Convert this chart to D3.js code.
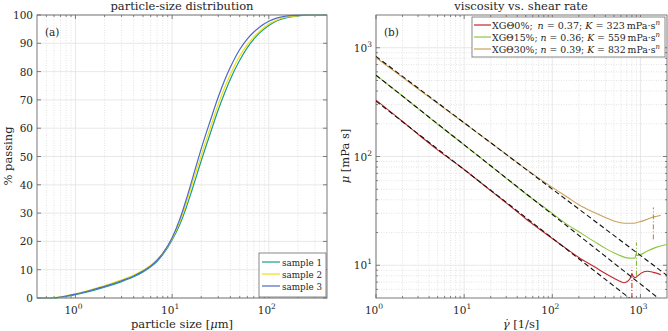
<!DOCTYPE html>
<html>
<head>
<meta charset="utf-8">
<script src="https://cdn.jsdelivr.net/npm/d3@7"></script>
<style>
	body { margin: 0; background: #fff; }
	svg text { font-family: "DejaVu Serif", serif; fill: #262626; }
</style>
</head>
<body>
<script>
// ---- particle-size distribution (panel a)
var sizes   = [0.4, 0.5, 0.6, 0.7, 0.8, 1, 1.5, 2, 3, 4, 5, 6, 7, 8, 10, 12, 14, 16, 18, 20, 25, 30, 35, 40, 50, 60, 70, 80, 100, 120, 150, 200, 250, 300, 400];
var sample1 = [0, 0, 0.05, 0.3, 0.6, 1.2, 2.6, 3.8, 5.8, 7.5, 9.2, 11, 13, 15.3, 20.5, 26, 32, 38, 43.5, 48.5, 58.5, 66.5, 72.5, 77.3, 84, 88.5, 91.5, 93.6, 96.3, 97.9, 99.0, 99.7, 99.95, 100, 100];
var sample2 = [0, 0, 0.1, 0.4, 0.8, 1.5, 3.1, 4.4, 6.4, 8.1, 9.8, 11.6, 13.6, 15.8, 21, 27, 33.5, 40, 45.5, 50.5, 60.5, 68.5, 74.5, 79, 85.5, 89.5, 92.3, 94.2, 96.8, 98.2, 99.2, 99.8, 100, 100, 100];
var sample3 = [0, 0, 0.08, 0.35, 0.7, 1.35, 2.9, 4.1, 6.1, 7.8, 9.5, 11.3, 13.4, 15.8, 21.3, 27.8, 34.8, 41.5, 47.5, 52.8, 63, 71, 77, 81.5, 87.8, 91.6, 94, 95.7, 97.8, 98.9, 99.6, 99.9, 100, 100, 100];
var sampleNames = ["sample 1", "sample 2", "sample 3"];
var sampleColors = ["#1b9e8a", "#f0e010", "#5068c8"];
var yTicksA = [0, 10, 20, 30, 40, 50, 60, 70, 80, 90, 100];

// ---- viscosity vs shear rate (panel b)
var rate0  = [1, 2, 3, 5, 10, 20, 30, 50, 70, 100, 150, 200, 300, 400, 500, 600, 650, 700, 760, 800, 830, 870, 950, 1050, 1200, 1400, 1700];
var visc0  = [330, 210, 160, 115, 76, 48.5, 37.5, 26.8, 21.8, 17.6, 13.9, 11.8, 9.7, 8.4, 7.6, 7.05, 6.9, 7.05, 7.5, 8.3, 7.9, 7.7, 8.1, 8.6, 8.8, 8.6, 8.2];
var rate15 = [1, 2, 5, 10, 20, 50, 100, 150, 200, 300, 400, 500, 600, 700, 800, 870, 890, 920, 1000, 1200, 1500, 2000];
var visc15 = [560, 360, 198, 128, 82, 45.5, 30, 23.5, 20.3, 16.5, 14.3, 13, 12.2, 11.7, 11.6, 11.7, 12.7, 12.3, 12.5, 13.5, 14.6, 15.5];
var rate30 = [1, 2, 5, 10, 20, 50, 100, 150, 200, 300, 400, 500, 600, 700, 800, 900, 1000, 1200, 1400, 1500, 1700];
var visc30 = [810, 535, 308, 203, 134, 77, 52, 42, 36, 30.5, 27.5, 25.5, 24.6, 24.3, 24.3, 24.6, 25.2, 26.5, 27.8, 28.1, 28.8];
var fluidNames = ["XG\u03980%;\u2002", "XG\u039815%; ", "XG\u039830%; "];
var fitN = [0.37, 0.36, 0.39];
var fitK = [323, 559, 832];
var fluidColors = ["#c1272d", "#8dc63f", "#c9a25a"];
var onsetColors = ["#c1272d", "#7cb82f", "#a8872f"];
var onsetRate = [800, 900, 1400];
var onsetLow  = [5, 8, 17.3];
var onsetHigh = [9.5, 16.2, 34];

var width = 668, height = 331;
var svg = d3.select("body").append("svg")
	.attr("width", width)
	.attr("height", height)
	.attr("font-family", "DejaVu Serif, serif");

function logMinor(domain) {
	var out = [];
	for (var e = -2; e <= 4; e++)
		for (var k = 2; k <= 9; k++) {
			var v = k * Math.pow(10, e);
			if (v > domain[0] && v < domain[1]) out.push(v);
		}
	return out;
}

// grid, inward ticks on all four sides and the box
function frame(g, x, y, xMajor, xMinor, yMajor, yMinor) {
	var x0 = x.range()[0], x1 = x.range()[1], y0 = y.range()[1], y1 = y.range()[0];
	g.selectAll(".gxm").data(xMinor).enter().append("line")
		.attr("x1", x).attr("x2", x).attr("y1", y0).attr("y2", y1)
		.attr("stroke", "#d8d8d8").attr("stroke-width", 0.7).attr("stroke-dasharray", "1,1.5");
	g.selectAll(".gym").data(yMinor).enter().append("line")
		.attr("y1", y).attr("y2", y).attr("x1", x0).attr("x2", x1)
		.attr("stroke", "#d8d8d8").attr("stroke-width", 0.7).attr("stroke-dasharray", "1,1.5");
	g.selectAll(".gx").data(xMajor).enter().append("line")
		.attr("x1", x).attr("x2", x).attr("y1", y0).attr("y2", y1)
		.attr("stroke", "#e2e2e2").attr("stroke-width", 0.8);
	g.selectAll(".gy").data(yMajor).enter().append("line")
		.attr("y1", y).attr("y2", y).attr("x1", x0).attr("x2", x1)
		.attr("stroke", "#e2e2e2").attr("stroke-width", 0.8);

	var tk = g.append("g").attr("stroke", "#4d4d4d").attr("stroke-width", 0.7);
	[[xMajor, 4], [xMinor, 2]].forEach(function(p) {
		p[0].forEach(function(v) {
			tk.append("line").attr("x1", x(v)).attr("x2", x(v)).attr("y1", y1).attr("y2", y1 - p[1]);
			tk.append("line").attr("x1", x(v)).attr("x2", x(v)).attr("y1", y0).attr("y2", y0 + p[1]);
		});
	});
	[[yMajor, 4], [yMinor, 2]].forEach(function(p) {
		p[0].forEach(function(v) {
			tk.append("line").attr("y1", y(v)).attr("y2", y(v)).attr("x1", x0).attr("x2", x0 + p[1]);
			tk.append("line").attr("y1", y(v)).attr("y2", y(v)).attr("x1", x1).attr("x2", x1 - p[1]);
		});
	});
	g.append("rect").attr("x", x0).attr("y", y0).attr("width", x1 - x0).attr("height", y1 - y0)
		.attr("fill", "none").attr("stroke", "#6b6b6b").attr("stroke-width", 0.9);
}

function powLabel(sel, v) {
	var e = Math.round(Math.log10(v));
	sel.append("tspan").text("10");
	sel.append("tspan").attr("dy", -5).attr("font-size", "7.5px").text(e);
}

// ================= panel (a)
var xA = d3.scaleLog().domain([0.4, 400]).range([37, 327]);
var yA = d3.scaleLinear().domain([0, 100]).range([298, 15]);
var gA = svg.append("g");
frame(gA, xA, yA, [1, 10, 100], logMinor(xA.domain()), yTicksA, []);

var lineA = d3.line().curve(d3.curveMonotoneX)
	.x(function(d) { return xA(d[0]); })
	.y(function(d) { return yA(d[1]); });
[sample1, sample2, sample3].forEach(function(s, i) {
	gA.append("path")
		.attr("d", lineA(sizes.map(function(d, j) { return [d, s[j]]; })))
		.attr("fill", "none").attr("stroke", sampleColors[i]).attr("stroke-width", 1.2);
});

yTicksA.forEach(function(v) {
	gA.append("text").attr("x", 33).attr("y", yA(v) + 4).attr("text-anchor", "end")
		.attr("font-size", "10.5px").text(v);
});
[1, 10, 100].forEach(function(v) {
	var t = gA.append("text").attr("x", xA(v) - 2).attr("y", 314).attr("text-anchor", "middle")
		.attr("font-size", "10.5px");
	powLabel(t, v);
});
gA.append("text").attr("x", 182).attr("y", 10).attr("text-anchor", "middle")
	.attr("font-size", "11.5px").text("particle-size distribution");
var xl = gA.append("text").attr("x", 182).attr("y", 328).attr("text-anchor", "middle").attr("font-size", "11.5px");
xl.append("tspan").text("particle size [");
xl.append("tspan").attr("font-style", "italic").text("\u03bc");
xl.append("tspan").text("m]");
gA.append("text").attr("transform", "translate(12,156) rotate(-90)").attr("text-anchor", "middle")
	.attr("font-size", "11.5px").text("% passing");
gA.append("text").attr("x", 45).attr("y", 36).attr("font-size", "10.5px").text("(a)");

// legend (a)
var legA = gA.append("g");
legA.append("rect").attr("x", 259).attr("y", 253).attr("width", 67).attr("height", 44)
	.attr("fill", "#fff").attr("stroke", "#6b6b6b").attr("stroke-width", 0.8);
sampleNames.forEach(function(n, i) {
	var yy = 262 + i * 12;
	legA.append("line").attr("x1", 262).attr("x2", 280).attr("y1", yy).attr("y2", yy)
		.attr("stroke", sampleColors[i]).attr("stroke-width", 2).attr("stroke-opacity", 0.6);
	legA.append("text").attr("x", 282).attr("y", yy + 4).attr("font-size", "9.5px")
		.attr("textLength", 40).attr("lengthAdjust", "spacingAndGlyphs").text(n);
});

// ================= panel (b)
var xB = d3.scaleLog().domain([1, 2000]).range([376, 667]);
var yB = d3.scaleLog().domain([5, 2000]).range([298, 15]);
var gB = svg.append("g");
frame(gB, xB, yB, [1, 10, 100, 1000], logMinor(xB.domain()), [10, 100, 1000], logMinor(yB.domain()));

svg.append("clipPath").attr("id", "clipB").append("rect")
	.attr("x", 376).attr("y", 15).attr("width", 291).attr("height", 283);
var plotB = gB.append("g").attr("clip-path", "url(#clipB)");

var lineB = d3.line().curve(d3.curveMonotoneX)
	.x(function(d) { return xB(d[0]); })
	.y(function(d) { return yB(d[1]); });
var fluids = [[rate0, visc0], [rate15, visc15], [rate30, visc30]];
fluids.forEach(function(f, i) {
	plotB.append("path")
		.attr("d", lineB(f[0].map(function(r, j) { return [r, f[1][j]]; })))
		.attr("fill", "none").attr("stroke", fluidColors[i]).attr("stroke-width", 1.1);
});
// power-law fits
fitK.forEach(function(K, i) {
	var pts = xB.domain().map(function(r) { return [r, K * Math.pow(r, fitN[i] - 1)]; });
	plotB.append("path")
		.attr("d", d3.line().x(function(d) { return xB(d[0]); }).y(function(d) { return yB(d[1]); })(pts))
		.attr("fill", "none").attr("stroke", "#111").attr("stroke-width", 1.1).attr("stroke-dasharray", "5,3");
});
// onset markers
onsetRate.forEach(function(r, i) {
	plotB.append("line").attr("x1", xB(r)).attr("x2", xB(r))
		.attr("y1", yB(onsetLow[i])).attr("y2", yB(onsetHigh[i]))
		.attr("stroke", onsetColors[i]).attr("stroke-width", 1).attr("stroke-dasharray", "5,2,1,2");
});

[10, 100, 1000].forEach(function(v) {
	var t = gB.append("text").attr("x", 372).attr("y", yB(v) + 4).attr("text-anchor", "end")
		.attr("font-size", "10.5px");
	powLabel(t, v);
});
[1, 10, 100, 1000].forEach(function(v) {
	var t = gB.append("text").attr("x", xB(v) - 2).attr("y", 314).attr("text-anchor", "middle")
		.attr("font-size", "10.5px");
	powLabel(t, v);
});
gB.append("text").attr("x", 521).attr("y", 10).attr("text-anchor", "middle")
	.attr("font-size", "11.5px").text("viscosity vs. shear rate");
var xlb = gB.append("text").attr("x", 521).attr("y", 328).attr("text-anchor", "middle").attr("font-size", "11.5px");
xlb.append("tspan").attr("font-style", "italic").text("\u03b3\u0307");
xlb.append("tspan").text(" [1/s]");
var ylb = gB.append("text").attr("transform", "translate(349,156) rotate(-90)").attr("text-anchor", "middle")
	.attr("font-size", "11.5px");
ylb.append("tspan").attr("font-style", "italic").text("\u03bc");
ylb.append("tspan").text(" [mPa s]");
gB.append("text").attr("x", 384).attr("y", 36).attr("font-size", "10.5px").text("(b)");

// legend (b)
var legB = gB.append("g");
legB.append("rect").attr("x", 472).attr("y", 17).attr("width", 193).attr("height", 40)
	.attr("fill", "#fff").attr("stroke", "#6b6b6b").attr("stroke-width", 0.8);
fluidNames.forEach(function(n, i) {
	var yy = 25 + i * 12;
	legB.append("line").attr("x1", 474).attr("x2", 491).attr("y1", yy).attr("y2", yy)
		.attr("stroke", fluidColors[i]).attr("stroke-width", 1.2);
	var t = legB.append("text").attr("x", 492).attr("y", yy + 4).attr("font-size", "9.5px")
		.attr("textLength", 168).attr("lengthAdjust", "spacingAndGlyphs");
	t.append("tspan").text(n);
	t.append("tspan").attr("font-style", "italic").text("n");
	t.append("tspan").text(" = " + fitN[i].toFixed(2) + "; ");
	t.append("tspan").attr("font-style", "italic").text("K");
	t.append("tspan").text(" = " + fitK[i] + "\u2009mPa\u00b7s");
	t.append("tspan").attr("font-style", "italic").attr("font-size", "7px").attr("dy", -4).text("n");
});
</script>
</body>
</html>
